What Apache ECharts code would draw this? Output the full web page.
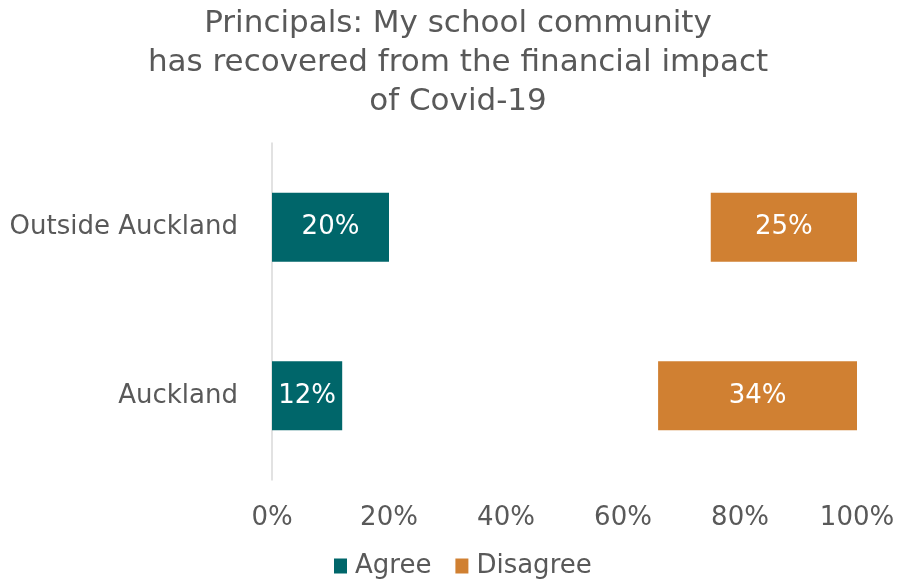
<!DOCTYPE html>
<html>
<head>
<meta charset="utf-8">
<script src="https://cdn.jsdelivr.net/npm/echarts@6/dist/echarts.min.js"></script>
<style>
  html, body { margin: 0; padding: 0; background: #fff; }
  #chart { width: 898px; height: 582px; }
</style>
</head>
<body>
<div id="chart"></div>
<script>
// Regions, listed bottom to top on the category axis
const regions = ['Auckland', 'Outside Auckland'];
// Share of principals (%)
const agree = [12, 20];
const disagree = [34, 25];
// Neither agree nor disagree: unlabelled spacer that pushes Disagree to the right end
const neutral = regions.map((_, i) => 100 - agree[i] - disagree[i]);
const tickLabels = ['0%', '20%', '40%', '60%', '80%', '100%'];

const FONT = 'DejaVu Sans, Verdana, sans-serif';
const TEXT = '#595959';

const chart = echarts.init(document.getElementById('chart'));

const barLabel = {
  show: true,
  position: 'inside',
  color: '#fff',
  fontFamily: FONT,
  fontSize: 26,
  formatter: p => p.value + '%'
};

chart.setOption({
  animation: false,
  title: {
    text: 'Principals: My school community\nhas recovered from the financial impact\nof Covid-19',
    left: 453,
    top: -1,
    textAlign: 'center',
    textStyle: {
      fontFamily: FONT,
      fontWeight: 'normal',
      fontSize: 31,
      lineHeight: 39,
      color: TEXT
    }
  },
  legend: {
    data: ['Agree', 'Disagree'],
    bottom: 3,
    left: 334,
    padding: 0,
    icon: 'rect',
    itemWidth: 13,
    itemHeight: 15,
    itemGap: 24,
    textStyle: { fontFamily: FONT, fontSize: 26, color: TEXT, padding: [0, 0, 0, 3] }
  },
  grid: { left: 272, right: 41, top: 143, bottom: 102 },
  xAxis: {
    type: 'value',
    min: 0,
    max: 100,
    interval: 20,
    axisLine: { show: false },
    axisTick: { show: false },
    splitLine: { show: false },
    axisLabel: {
      margin: 25,
      fontFamily: FONT,
      fontSize: 26,
      color: TEXT,
      formatter: v => tickLabels[v / 20]
    }
  },
  yAxis: {
    type: 'category',
    data: regions,
    axisLine: { show: true, lineStyle: { color: '#d9d9d9', width: 1.5 } },
    axisTick: { show: false },
    axisLabel: { margin: 34, fontFamily: FONT, fontSize: 26, color: TEXT }
  },
  series: [
    {
      name: 'Agree', type: 'bar', stack: 'total', barWidth: 69,
      itemStyle: { color: '#00666A' },
      label: barLabel,
      data: agree
    },
    {
      name: 'Neutral', type: 'bar', stack: 'total', barWidth: 69,
      itemStyle: { color: 'rgba(0,0,0,0)' },
      label: { show: false },
      silent: true,
      data: neutral
    },
    {
      name: 'Disagree', type: 'bar', stack: 'total', barWidth: 69,
      itemStyle: { color: '#D08032' },
      label: barLabel,
      data: disagree
    }
  ]
});
</script>
</body>
</html>
